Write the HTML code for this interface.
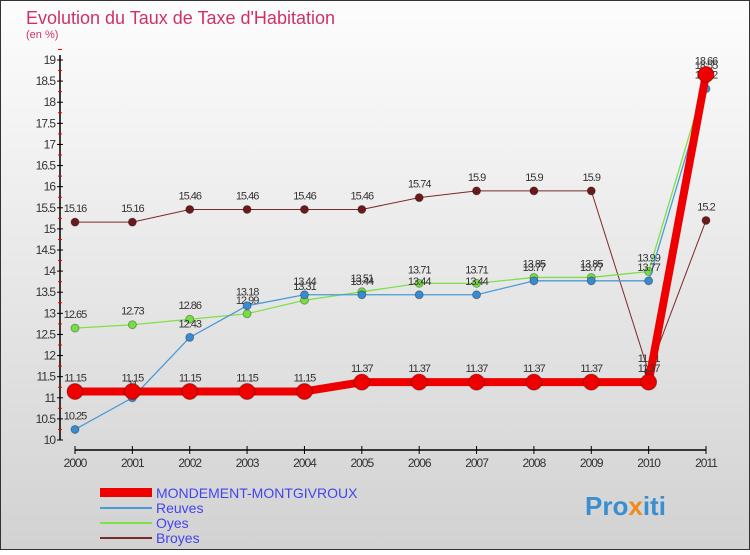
<!DOCTYPE html>
<html><head><meta charset="utf-8"><style>
body{margin:0;width:750px;height:550px;overflow:hidden;font-family:"Liberation Sans",sans-serif}
</style></head><body>
<svg width="750" height="550" xmlns="http://www.w3.org/2000/svg">
<defs><linearGradient id="bg" x1="0" y1="0" x2="0" y2="1"><stop offset="0" stop-color="#fdfdfd"/><stop offset="1" stop-color="#d2d2d2"/></linearGradient></defs>
<rect x="0.5" y="0.5" width="749" height="549" fill="url(#bg)" stroke="#333"/>
<text x="26" y="24" font-size="18" fill="#d0306a">Evolution du Taux de Taxe d'Habitation</text>
<text x="26" y="38" font-size="11" fill="#d0306a">(en %)</text>
<g id="axes"></g><g id="series"></g>
<g font-size="14">
<rect x="100" y="488" width="52" height="9" fill="#e00"/>
<text x="156" y="498" fill="#4444ee">MONDEMENT-MONTGIVROUX</text>
<line x1="100" y1="508" x2="152" y2="508" stroke="#4a9ad8" stroke-width="2"/>
<text x="156" y="513" fill="#4444ee">Reuves</text>
<line x1="100" y1="523" x2="152" y2="523" stroke="#7fe04a" stroke-width="2"/>
<text x="156" y="528" fill="#4444ee">Oyes</text>
<line x1="100" y1="538" x2="152" y2="538" stroke="#7a2a2a" stroke-width="2"/>
<text x="156" y="543" fill="#4444ee">Broyes</text>
</g>
<text x="585" y="515" font-size="26" font-weight="bold" fill="#3a8fd0">Pro<tspan fill="#f08a1a">x</tspan>iti</text>
</svg>
<script>
const years=["2000","2001","2002","2003","2004","2005","2006","2007","2008","2009","2010","2011"];
const yTicks=[10,10.5,11,11.5,12,12.5,13,13.5,14,14.5,15,15.5,16,16.5,17,17.5,18,18.5,19];
const mondement=[11.15,11.15,11.15,11.15,11.15,11.37,11.37,11.37,11.37,11.37,11.37,18.66];
const reuves=[10.25,11,12.43,13.18,13.44,13.44,13.44,13.44,13.77,13.77,13.77,18.32];
const oyes=[12.65,12.73,12.86,12.99,13.31,13.51,13.71,13.71,13.85,13.85,13.99,18.55];
const broyes=[15.16,15.16,15.46,15.46,15.46,15.46,15.74,15.9,15.9,15.9,11.61,15.2];
const NS="http://www.w3.org/2000/svg";
const X=i=>75+i*(631/11);
const Y=v=>440-(v-10)*(380/9);
function mk(t,a,p){const e=document.createElementNS(NS,t);for(const k in a)e.setAttribute(k,a[k]);p.appendChild(e);return e;}
const ax=document.getElementById('axes');
const yl=mk('line',{x1:60,y1:55,x2:60,y2:440,stroke:'#000','stroke-width':1.5},ax);


const xl=mk('line',{x1:75,y1:450,x2:706,y2:450,stroke:'#000','stroke-width':1.5},ax);


yTicks.forEach(v=>{
 mk('line',{x1:57,y1:Y(v),x2:63,y2:Y(v),stroke:'#000'},ax);
 mk('line',{x1:58,y1:Y(v+0.25),x2:62,y2:Y(v+0.25),stroke:'#e00'},ax);
 const t=mk('text',{x:55,y:Y(v)+4,'text-anchor':'end','font-size':12,fill:'#333','letter-spacing':'-1'},ax);
 t.textContent=v;
 
 
});
years.forEach((y,i)=>{
 mk('line',{x1:X(i),y1:446,x2:X(i),y2:454,stroke:'#000'},ax);
 const t=mk('text',{x:X(i),y:467,'text-anchor':'middle','font-size':12,fill:'#333','letter-spacing':'-1'},ax);
 t.textContent=y;
 
 
});
const sg=document.getElementById('series');
function series(name,data,color,w,r,dot){
 const g=mk('g',{},sg);
 
 
 const p=mk('polyline',{points:data.map((v,i)=>X(i)+','+Y(v)).join(' '),fill:'none',stroke:color,'stroke-width':w,'stroke-linejoin':'round'},g);
 
 
 data.forEach((v,i)=>{
  const c=mk('circle',{cx:X(i),cy:Y(v),r:r,fill:dot,stroke:'rgba(0,0,0,0.3)'},g);
  
  
  const t=mk('text',{x:X(i),y:Y(v)-10,'text-anchor':'middle','font-size':11,fill:'#333','letter-spacing':'-1'},g);
  t.textContent=v;
  
  
 });
}
series('broyes',broyes,'#7a2a2a',1,4,'#6a1a1a');
series('oyes',oyes,'#7fe04a',1.3,4,'#77dd44');
series('reuves',reuves,'#4a9ad8',1.3,4,'#3a8ad0');
series('mondement',mondement,'#ee0000',8,8,'#ee0000');
</script>
</body></html>
